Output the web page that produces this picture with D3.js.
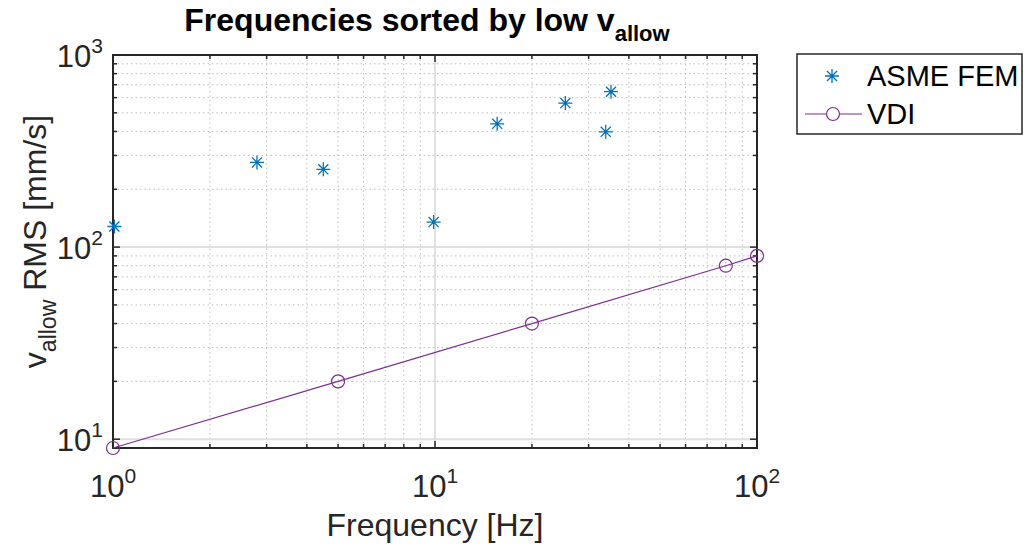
<!DOCTYPE html>
<html>
<head>
<meta charset="utf-8">
<script src="https://cdn.jsdelivr.net/npm/d3@7"></script>
<style>
  body { margin: 0; background: #fff; }
  svg { font-family: "Liberation Sans", Arial, sans-serif; }
</style>
</head>
<body>
<div id="chart"></div>
<script>
// ASME FEM points (frequency in Hz, v_allow in mm/s)
let asmeFreq = [1.01, 2.8, 4.5, 9.9, 15.6, 25.4, 33.9, 35.2];
let asmeVal = [128, 276, 254, 135, 438, 562, 398, 644];

// VDI curve
let vdiFreq = [1, 5, 20, 80, 100];
let vdiVal = [9, 20, 40, 80, 90];

let xTicks = [1, 10, 100];
let yTicks = [10, 100, 1000];

let margin = {top: 55, left: 113, right: 267, bottom: 97};
let width = 1024 - margin.left - margin.right;
let height = 545 - margin.top - margin.bottom;

let svg = d3.select("#chart").append("svg")
    .attr("width", 1024)
    .attr("height", 545);

let g = svg.append("g")
    .attr("transform", "translate(" + margin.left + "," + margin.top + ")");

let x = d3.scaleLog().domain([1, 100]).range([0, width]);
let y = d3.scaleLog().domain([9, 1000]).range([height, 0]);

// minor grid values
let xMinor = [];
[1, 10].forEach(function(d) { for (let k = 2; k < 10; k++) xMinor.push(d * k); });
let yMinor = [];
[1, 10, 100].forEach(function(d) { for (let k = 2; k < 10; k++) if (d * k >= 9) yMinor.push(d * k); });

// minor grid (dotted)
g.selectAll(".xminor").data(xMinor).enter().append("line")
    .attr("x1", d => x(d)).attr("x2", d => x(d))
    .attr("y1", 0).attr("y2", height)
    .attr("stroke", "#bdbdbd").attr("stroke-width", 1).attr("stroke-dasharray", "1.5,3");
g.selectAll(".yminor").data(yMinor).enter().append("line")
    .attr("y1", d => y(d)).attr("y2", d => y(d))
    .attr("x1", 0).attr("x2", width)
    .attr("stroke", "#bdbdbd").attr("stroke-width", 1).attr("stroke-dasharray", "1.5,3");

// major grid (solid, light)
g.selectAll(".xmajor").data(xTicks).enter().append("line")
    .attr("x1", d => x(d)).attr("x2", d => x(d))
    .attr("y1", 0).attr("y2", height)
    .attr("stroke", "#e0e0e0").attr("stroke-width", 2);
g.selectAll(".ymajor").data(yTicks).enter().append("line")
    .attr("y1", d => y(d)).attr("y2", d => y(d))
    .attr("x1", 0).attr("x2", width)
    .attr("stroke", "#e0e0e0").attr("stroke-width", 2);

// ticks on all four sides (pointing inward)
let axisColor = "#262626";
function tickLines(vals, len, horizontal) {
    vals.forEach(function(d) {
        if (horizontal) {
            g.append("line").attr("x1", x(d)).attr("x2", x(d)).attr("y1", height).attr("y2", height - len)
                .attr("stroke", axisColor).attr("stroke-width", 1.5);
            g.append("line").attr("x1", x(d)).attr("x2", x(d)).attr("y1", 0).attr("y2", len)
                .attr("stroke", axisColor).attr("stroke-width", 1.5);
        } else {
            g.append("line").attr("y1", y(d)).attr("y2", y(d)).attr("x1", 0).attr("x2", len)
                .attr("stroke", axisColor).attr("stroke-width", 1.5);
            g.append("line").attr("y1", y(d)).attr("y2", y(d)).attr("x1", width).attr("x2", width - len)
                .attr("stroke", axisColor).attr("stroke-width", 1.5);
        }
    });
}
tickLines(xMinor, 4, true);
tickLines(xTicks, 7, true);
tickLines(yMinor, 4, false);
tickLines(yTicks, 7, false);

// box
g.append("rect")
    .attr("x", 0).attr("y", 0).attr("width", width).attr("height", height)
    .attr("fill", "none").attr("stroke", axisColor).attr("stroke-width", 2);

// tick labels with exponents
g.selectAll(".xlab").data(xTicks).enter().append("text")
    .attr("x", d => x(d)).attr("y", height + 49)
    .attr("text-anchor", "middle")
    .attr("font-size", 31).attr("fill", axisColor)
    .each(function(d) {
        let t = d3.select(this);
        t.append("tspan").text("10");
        t.append("tspan").attr("font-size", 21).attr("dy", -14).text(Math.round(Math.log10(d)));
    });

g.selectAll(".ylab").data(yTicks).enter().append("text")
    .attr("x", -10).attr("y", d => y(d) + 12)
    .attr("text-anchor", "end")
    .attr("font-size", 31).attr("fill", axisColor)
    .each(function(d) {
        let t = d3.select(this);
        t.append("tspan").text("10");
        t.append("tspan").attr("font-size", 21).attr("dy", -14).text(Math.round(Math.log10(d)));
    });

// VDI line and circles
let purple = "#7E2F8E";
let line = d3.line().x(d => x(d[0])).y(d => y(d[1]));
let vdi = vdiFreq.map((f, i) => [f, vdiVal[i]]);
g.append("path").datum(vdi)
    .attr("d", line).attr("fill", "none")
    .attr("stroke", purple).attr("stroke-width", 1.2);
g.selectAll(".vdi").data(vdi).enter().append("circle")
    .attr("cx", d => x(d[0])).attr("cy", d => y(d[1])).attr("r", 6.5)
    .attr("fill", "none").attr("stroke", purple).attr("stroke-width", 1.2);

// asterisk marker
let blue = "#0072BD";
function star(sel, cx, cy, r) {
    let dd = r * 0.72;
    let p = "M" + (cx - r) + "," + cy + "H" + (cx + r) +
        "M" + cx + "," + (cy - r) + "V" + (cy + r) +
        "M" + (cx - dd) + "," + (cy - dd) + "L" + (cx + dd) + "," + (cy + dd) +
        "M" + (cx - dd) + "," + (cy + dd) + "L" + (cx + dd) + "," + (cy - dd);
    sel.append("path").attr("d", p).attr("stroke", blue).attr("stroke-width", 1.3).attr("fill", "none");
}
asmeFreq.forEach(function(f, i) { star(g, x(f), y(asmeVal[i]), 7); });

// title
let title = svg.append("text")
    .attr("x", margin.left + width / 2 - 8).attr("y", 31)
    .attr("text-anchor", "middle")
    .attr("font-size", 32).attr("font-weight", "bold").attr("fill", "#000");
title.append("tspan").text("Frequencies sorted by low v");
title.append("tspan").attr("font-size", 22).attr("dy", 10).text("allow");

// x label
svg.append("text")
    .attr("x", margin.left + width / 2).attr("y", 536)
    .attr("text-anchor", "middle")
    .attr("font-size", 32).attr("fill", axisColor)
    .text("Frequency [Hz]");

// y label
let ylab = svg.append("text")
    .attr("transform", "translate(46," + (margin.top + height / 2 - 10) + ") rotate(-90)")
    .attr("text-anchor", "middle")
    .attr("font-size", 32).attr("fill", axisColor);
ylab.append("tspan").text("v");
ylab.append("tspan").attr("font-size", 23).attr("dy", 10).text("allow");
ylab.append("tspan").attr("dy", -10).text(" RMS [mm/s]");

// legend
let leg = svg.append("g").attr("transform", "translate(797,54)");
leg.append("rect").attr("x", 0).attr("y", 0).attr("width", 225).attr("height", 80)
    .attr("fill", "#fff").attr("stroke", axisColor).attr("stroke-width", 1.5);
star(leg, 35, 22, 7);
leg.append("text").attr("x", 70).attr("y", 32).attr("font-size", 29).attr("fill", "#000").text("ASME FEM");
leg.append("line").attr("x1", 8).attr("x2", 65).attr("y1", 60).attr("y2", 60)
    .attr("stroke", purple).attr("stroke-width", 1.2);
leg.append("circle").attr("cx", 36).attr("cy", 60).attr("r", 6.5)
    .attr("fill", "#fff").attr("stroke", purple).attr("stroke-width", 1.2);
leg.append("text").attr("x", 70).attr("y", 70).attr("font-size", 29).attr("fill", "#000").text("VDI");
</script>
</body>
</html>
